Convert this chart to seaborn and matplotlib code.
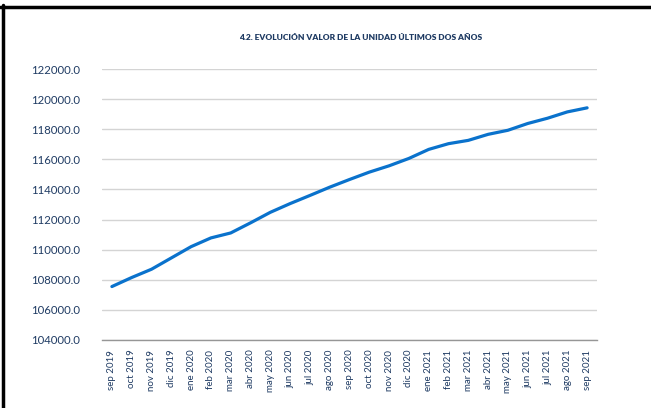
import matplotlib
matplotlib.use("Agg")
import matplotlib.pyplot as plt
import pandas as pd
import seaborn as sns
from matplotlib.lines import Line2D

months = [
    "sep 2019", "oct 2019", "nov 2019", "dic 2019", "ene 2020", "feb 2020",
    "mar 2020", "abr 2020", "may 2020", "jun 2020", "jul 2020", "ago 2020",
    "sep 2020", "oct 2020", "nov 2020", "dic 2020", "ene 2021", "feb 2021",
    "mar 2021", "abr 2021", "may 2021", "jun 2021", "jul 2021", "ago 2021",
    "sep 2021",
]
unit_values = [
    107550, 108150, 108700, 109450, 110200, 110780,
    111110, 111780, 112480, 113060, 113600, 114150,
    114660, 115150, 115570, 116060, 116660, 117040,
    117260, 117660, 117930, 118380, 118730, 119150,
    119420,
]
y_ticks = [104000, 106000, 108000, 110000, 112000, 114000, 116000, 118000, 120000, 122000]
title = "4.2. EVOLUCIÓN VALOR DE LA UNIDAD ÚLTIMOS DOS AÑOS"

LINE_BLUE = "#0A72CC"
TEXT_NAVY = "#1F3B63"

sns.set_theme(style="white")
plt.rcParams["font.family"] = ["Lato", "DejaVu Sans"]

df = pd.DataFrame({"mes": months, "valor": unit_values})

W, H = 651, 408
fig = plt.figure(figsize=(W / 100, H / 100), dpi=100)
ax = fig.add_axes([102 / W, 1 - 340 / H, (597 - 102) / W, (340 - 69) / H])

sns.lineplot(data=df, x="mes", y="valor", sort=False, color=LINE_BLUE,
             linewidth=2.3, ax=ax)

ax.set_xlim(-0.5, len(months) - 0.5)
ax.set_ylim(y_ticks[0], y_ticks[-1])
ax.set_yticks(y_ticks)
ax.set_yticklabels([f"{v:.1f}" for v in y_ticks], color=TEXT_NAVY, fontsize=8.2)
ax.set_xticks(range(len(months)))
ax.set_xticklabels(months, rotation=90, color=TEXT_NAVY, fontsize=7.0)
ax.tick_params(axis="y", length=0, pad=16)
ax.tick_params(axis="x", length=0, pad=7)
ax.set_xlabel("")
ax.set_ylabel("")

ax.grid(axis="y", color="#D4D4D4", linewidth=1.0)
ax.set_axisbelow(True)
for side in ["top", "right", "left"]:
    ax.spines[side].set_visible(False)
ax.spines["bottom"].set_color("#969696")
ax.spines["bottom"].set_linewidth(1.0)

fig.text(361 / W, 1 - 37 / H, title, ha="center", va="center",
         fontsize=6.0, fontweight="heavy", color=TEXT_NAVY)

# outer frame (top and left border of the source document)
fig.add_artist(Line2D([0, 1], [1 - 6.5 / H, 1 - 6.5 / H], transform=fig.transFigure,
                      color="black", linewidth=2.5))
fig.add_artist(Line2D([2.5 / W, 2.5 / W], [0, 1 - 5 / H], transform=fig.transFigure,
                      color="black", linewidth=2.5))

fig.savefig("out.png", dpi=100)
